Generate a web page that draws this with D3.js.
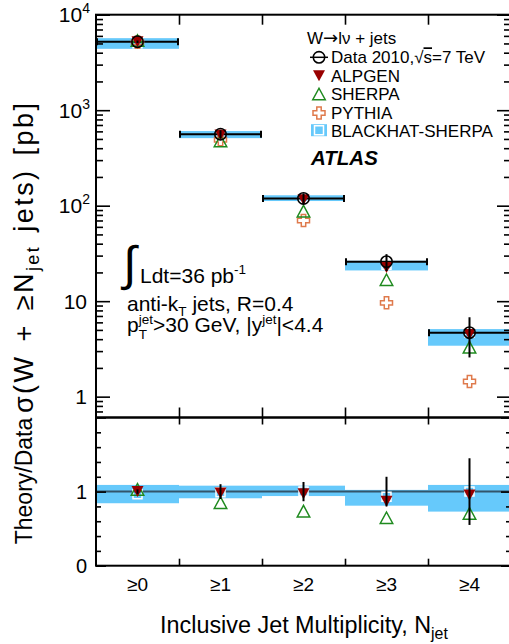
<!DOCTYPE html>
<html><head><meta charset="utf-8">
<script src="https://cdn.jsdelivr.net/npm/d3@7"></script>
<style>body{margin:0;background:#fff}svg{display:block}text{font-family:"Liberation Sans",Arial,Helvetica,sans-serif;fill:#000;white-space:pre}</style>
</head><body><svg id="c" width="509" height="644"></svg>
<script>
// ---------- data ----------
const categories = ["≥0","≥1","≥2","≥3","≥4"];
const dataXsec    = [5210, 560, 119, 25.9, 4.68];   // pb
const dataRelErr  = [0.03, 0.10, 0.13, 0.20, 0.45];
const alpgenRatio = [1.00, 0.98, 0.97, 0.87, 0.955];
const sherpaRatio = [1.03, 0.85, 0.736, 0.647, 0.705];
const pythiaXsec  = [5150, 490, 70, 9.6, 1.44];      // pb
const blackhatRatio = [0.965, 0.99, 1.0, 0.93, 1.0];
const blackhatLow   = [0.843, 0.91, 0.94, 0.81, 0.73];
const blackhatHigh  = [1.09, 1.08, 1.08, 1.023, 1.09];
const topMajorTicks = [1, 10, 100, 1000, 10000];
const ratioMajorTicks = [0, 1, 2];
const ratioLabels = [0, 1];
const legendLabels = ["Data 2010,","ALPGEN","SHERPA","PYTHIA","BLACKHAT-SHERPA"];

// ---------- layout ----------
const X0 = 96, X1 = 511, T0 = 14.7, T1 = 417.5, B1 = 565.7;
const C = {band:"#66c9fb", alp:"#990000", she:"#1f8a1f", pyt:"#df7a4c", line:"#33556a"};
const svg = d3.select("#c");
const x  = d3.scaleLinear().domain([-0.5, 4.5]).range([X0, X1]);
const yT = d3.scaleLog().domain([0.605, 1e4]).range([T1, T0]);
const yB = d3.scaleLinear().domain([0, 2]).range([B1, T1]);
const idx = d3.range(categories.length);

const downTri = (w,h) => `M${-w/2},${-h/2}L${w/2},${-h/2}L0,${h/2}Z`;
const upTri   = (w,h) => `M0,${-h/2}L${w/2},${h/2}L${-w/2},${h/2}Z`;
const crossP  = (s,a) => { const h=s/2; return `M${-a},${-h}H${a}V${-a}H${h}V${a}H${a}V${h}H${-a}V${a}H${-h}V${-a}H${-a}Z`; };
const sq = s => `M${-s/2},${-s/2}h${s}v${s}h${-s}Z`;

function marker(g, px, py, kind){
  if(kind==="alp") g.append("path").attr("d",downTri(12,11)).attr("transform",`translate(${px},${py})`).attr("fill",C.alp);
  if(kind==="she") g.append("path").attr("d",upTri(12.5,11.5)).attr("transform",`translate(${px},${py})`).attr("fill","none").attr("stroke",C.she).attr("stroke-width",1.5);
  if(kind==="pyt") g.append("path").attr("d",crossP(12,2.2)).attr("transform",`translate(${px},${py})`).attr("fill","none").attr("stroke",C.pyt).attr("stroke-width",1.5);
  if(kind==="bh")  g.append("path").attr("d",sq(9)).attr("transform",`translate(${px},${py})`).attr("fill","none").attr("stroke","#fff").attr("stroke-width",1.5);
  if(kind==="dat") g.append("circle").attr("cx",px).attr("cy",py).attr("r",5.7).attr("fill","none").attr("stroke","#000").attr("stroke-width",1.6);
}

function rich(g, x0, y0, items){
  let cx = x0, stackW = 0;
  items.forEach(it=>{
    const e = g.append("text").attr("x",cx).attr("y",y0+(it.dy||0)).attr("font-size",it.fs).text(it.t);
    const w = e.node().getComputedTextLength();
    if(it.stack){ stackW = Math.max(stackW,w); }
    else { cx += Math.max(w, stackW); stackW = 0; }
  });
  return cx;
}

// ================= TOP PANEL =================
const gTop = svg.append("g");
gTop.selectAll("rect.bh").data(idx).join("rect")
  .attr("x",i=>x(i-0.5)).attr("width",i=>x(i+0.5)-x(i-0.5))
  .attr("y",i=>yT(dataXsec[i]*blackhatHigh[i]))
  .attr("height",i=>yT(dataXsec[i]*blackhatLow[i])-yT(dataXsec[i]*blackhatHigh[i]))
  .attr("fill",C.band);
idx.forEach(i=>marker(gTop, x(i), yT(dataXsec[i]*blackhatRatio[i]), "bh"));
idx.forEach(i=>{
  const yy = yT(dataXsec[i]);
  gTop.append("line").attr("x1",x(i-0.5)).attr("x2",x(i+0.5)).attr("y1",yy).attr("y2",yy).attr("stroke","#000").attr("stroke-width",2);
  [x(i-0.5)+1, x(i+0.5)-1].forEach(cx=>gTop.append("line").attr("x1",cx).attr("x2",cx).attr("y1",yy-3.5).attr("y2",yy+3.5).attr("stroke","#000").attr("stroke-width",2));
});
idx.forEach(i=>marker(gTop, x(i), yT(pythiaXsec[i]), "pyt"));
idx.forEach(i=>marker(gTop, x(i), yT(dataXsec[i]*sherpaRatio[i]), "she"));
idx.forEach(i=>marker(gTop, x(i), yT(dataXsec[i]*alpgenRatio[i]), "alp"));
idx.forEach(i=>{
  marker(gTop, x(i), yT(dataXsec[i]), "dat");
  gTop.append("line").attr("x1",x(i)).attr("x2",x(i))
    .attr("y1",yT(dataXsec[i]*(1+dataRelErr[i]))).attr("y2",yT(dataXsec[i]*(1-dataRelErr[i])))
    .attr("stroke","#000").attr("stroke-width",2);
});

// ================= BOTTOM PANEL =================
const gBot = svg.append("g");
gBot.selectAll("rect.bh").data(idx).join("rect")
  .attr("x",i=>x(i-0.5)).attr("width",i=>x(i+0.5)-x(i-0.5))
  .attr("y",i=>yB(blackhatHigh[i])).attr("height",i=>yB(blackhatLow[i])-yB(blackhatHigh[i]))
  .attr("fill",C.band);
gBot.append("line").attr("x1",X0).attr("x2",X1).attr("y1",yB(1)).attr("y2",yB(1)).attr("stroke",C.line).attr("stroke-width",2);
idx.forEach(i=>marker(gBot, x(i), yB(blackhatRatio[i]), "bh"));
idx.forEach(i=>marker(gBot, x(i), yB(sherpaRatio[i]), "she"));
idx.forEach(i=>marker(gBot, x(i), yB(alpgenRatio[i]), "alp"));
idx.forEach(i=>gBot.append("line").attr("x1",x(i)).attr("x2",x(i))
  .attr("y1",yB(1+dataRelErr[i])).attr("y2",yB(1-dataRelErr[i])).attr("stroke","#000").attr("stroke-width",2));

// ================= AXES / FRAMES =================
const ax = svg.append("g");
function ticks(g, scale, vals, len, orient, pos){
  const a = (orient==="right"?d3.axisRight(scale):orient==="left"?d3.axisLeft(scale):orient==="bottom"?d3.axisBottom(scale):d3.axisTop(scale))
    .tickValues(vals).tickSize(len).tickFormat("");
  const tr = (orient==="right"||orient==="left")?`translate(${pos},0)`:`translate(0,${pos})`;
  const gg = g.append("g").attr("transform",tr).call(a);
  gg.select(".domain").remove();
  gg.selectAll("line").attr("stroke","#000").attr("stroke-width",1.6);
}
const allLog = yT.ticks(40).filter(v=>v>=0.605 && v<=1e4);
const minorLog = allLog.filter(v=>!topMajorTicks.includes(v));
ticks(ax, yT, topMajorTicks, 14, "right", X0);
ticks(ax, yT, minorLog, 7, "right", X0);
ticks(ax, yT, topMajorTicks, 14, "left", X1);
ticks(ax, yT, minorLog, 7, "left", X1);
const edges = [0.5,1.5,2.5,3.5];
ticks(ax, x, edges, 10, "bottom", T0);
ticks(ax, x, edges, 10, "top", T1);
const ratioMinor = d3.range(0.2,2,0.2).filter(v=>Math.abs(v-1)>0.01);
ticks(ax, yB, ratioMajorTicks, 10, "right", X0);
ticks(ax, yB, ratioMinor, 5, "right", X0);
ticks(ax, yB, ratioMajorTicks, 10, "left", X1);
ticks(ax, yB, ratioMinor, 5, "left", X1);
ticks(ax, x, edges, 7, "bottom", T1);
ticks(ax, x, edges, 7, "top", B1);
svg.append("rect").attr("x",X0).attr("y",T0).attr("width",X1-X0).attr("height",T1-T0).attr("fill","none").attr("stroke","#000").attr("stroke-width",2);
svg.append("rect").attr("x",X0).attr("y",T1).attr("width",X1-X0).attr("height",B1-T1).attr("fill","none").attr("stroke","#000").attr("stroke-width",2);

// ================= TICK LABELS =================
const lab = svg.append("g");
topMajorTicks.forEach(v=>{
  const e = Math.round(Math.log10(v)), yy = yT(v)+7.5;
  if(e>=2){
    const t = lab.append("text").attr("x",90).attr("y",yy).attr("text-anchor","end").attr("font-size",21);
    t.append("tspan").text("10");
    t.append("tspan").attr("font-size",14).attr("dy",-9).text(e);
  } else {
    lab.append("text").attr("x",87).attr("y",yy).attr("text-anchor","end").attr("font-size",21).text(String(v));
  }
});
ratioLabels.forEach(v=>lab.append("text").attr("x",87).attr("y",yB(v)+7).attr("text-anchor","end").attr("font-size",20).text(v));
categories.forEach((c,i)=>lab.append("text").attr("x",x(i)).attr("y",591).attr("text-anchor","middle").attr("font-size",19).text(c));

// x title, fitted to span 160..448
{
  const g = svg.append("g");
  const build = fs => { g.selectAll("*").remove(); return rich(g, 160, 633, [{t:"Inclusive Jet Multiplicity, N",fs:fs},{t:"jet",fs:fs*0.68,dy:6}]); };
  const end = build(23); build(23*(448-160)/(end-160));
}
// y title
{
  const yl = svg.append("text").attr("transform","translate(33,258) rotate(-90)").attr("text-anchor","middle")
    .attr("font-size",27).attr("word-spacing",3).attr("textLength",310).attr("lengthAdjust","spacing");
  yl.append("tspan").text("σ(W + ≥N");
  yl.append("tspan").attr("font-size",18).attr("dy",6).text("jet");
  yl.append("tspan").attr("dy",-6).text(" jets) [pb]");
}
svg.append("text").attr("transform","translate(31.5,481) rotate(-90)").attr("text-anchor","middle").attr("font-size",23).text("Theory/Data");

// ================= LEGEND =================
const lg = svg.append("g");
{ const t = lg.append("text").attr("x",307).attr("y",44).attr("font-size",17);
  t.append("tspan").text("W");
  t.append("tspan").attr("style","font-family:'DejaVu Sans'").attr("font-size",18).text("→");
  t.append("tspan").text("lν + jets"); }
const ly = [63.3, 81.7, 100, 119, 136.7], sx = 319, tx = 331;
lg.append("line").attr("x1",sx-9).attr("x2",sx+9).attr("y1",ly[0]-6).attr("y2",ly[0]-6).attr("stroke","#000").attr("stroke-width",1.5);
marker(lg, sx, ly[0]-6, "dat");
{ const t = lg.append("text").attr("x",tx).attr("y",ly[0]).attr("font-size",17);
  t.append("tspan").text(legendLabels[0]+"√");
  t.append("tspan").attr("style","text-decoration:overline").text("s");
  t.append("tspan").text("=7 TeV"); }
marker(lg, sx, ly[1]-6, "alp");
marker(lg, sx, ly[2]-6, "she");
marker(lg, sx, ly[3]-6, "pyt");
lg.append("rect").attr("x",sx-8).attr("y",ly[4]-12.5).attr("width",16).attr("height",12).attr("fill",C.band);
marker(lg, sx, ly[4]-6.5, "bh");
[1,2,3,4].forEach(k=>lg.append("text").attr("x",tx).attr("y",ly[k]).attr("font-size",17).text(legendLabels[k]));
lg.append("text").attr("x",311).attr("y",165).attr("font-size",20.5).attr("font-weight","bold").attr("font-style","italic").text("ATLAS");

// ================= ANNOTATIONS =================
const an = svg.append("g");
an.append("text").attr("x",123).attr("y",279.5).attr("font-size",48).text("∫");
rich(an, 140, 283, [{t:"Ldt=36 pb",fs:21},{t:"-1",fs:13.5,dy:-9}]);
rich(an, 127, 311, [{t:"anti-k",fs:21},{t:"T",fs:13.5,dy:5},{t:" jets, R=0.4",fs:21}]);
rich(an, 127, 332, [{t:"p",fs:21},{t:"jet",fs:13.5,dy:-8,stack:true},{t:"T",fs:13.5,dy:7},{t:">30 GeV, |y",fs:21},{t:"jet",fs:13.5,dy:-8},{t:"|<4.4",fs:21}]);
</script></body></html>
